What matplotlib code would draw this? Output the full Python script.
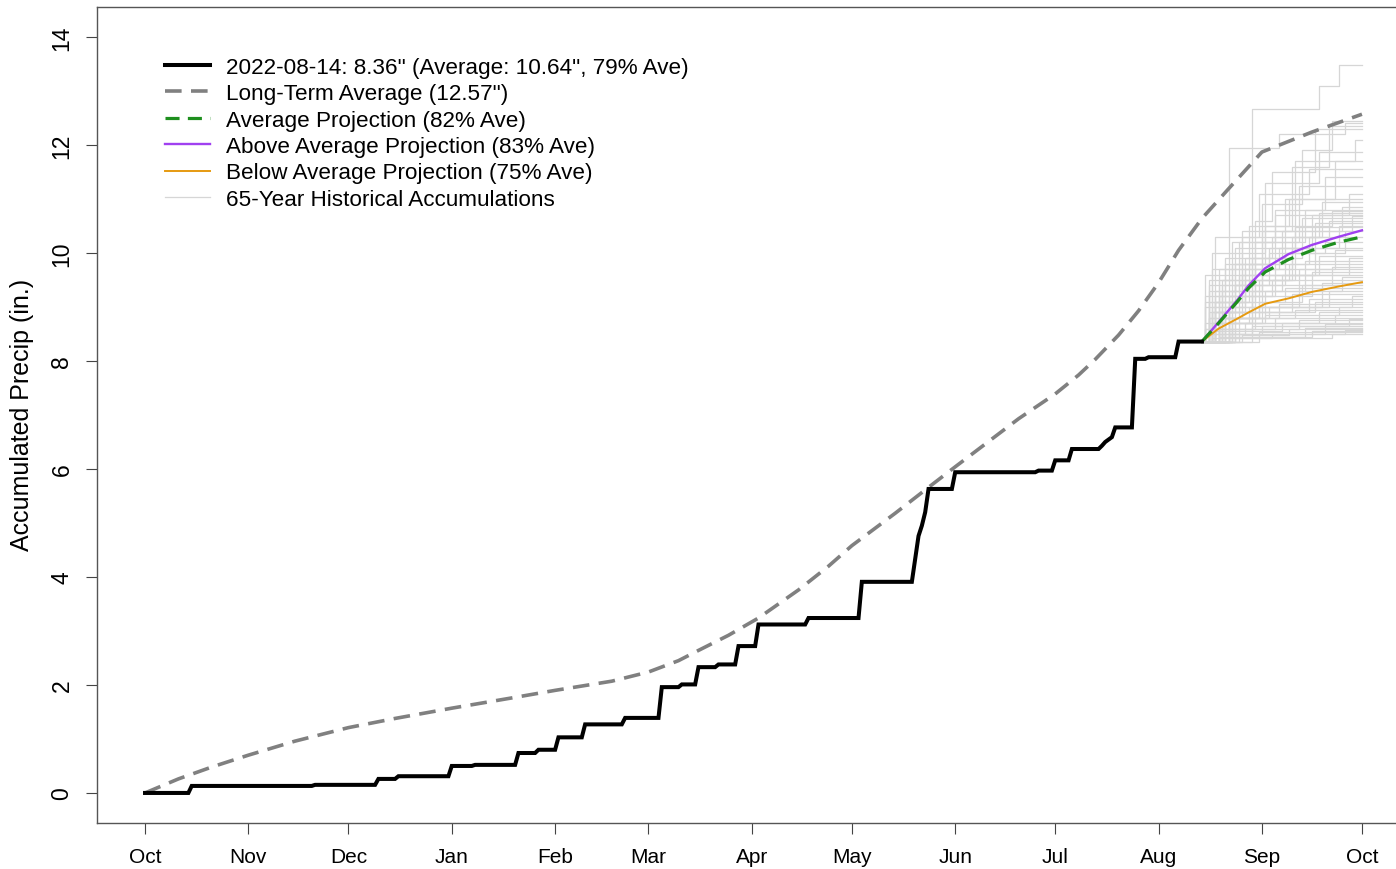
import matplotlib
matplotlib.use('Agg')
import matplotlib.pyplot as plt

plt.rcParams['font.family'] = ['Liberation Sans', 'DejaVu Sans']

# days since Oct 1 for the month ticks
month_days = [0, 31, 61, 92, 123, 151, 182, 212, 243, 273, 304, 335, 365]
month_labels = ['Oct', 'Nov', 'Dec', 'Jan', 'Feb', 'Mar', 'Apr', 'May', 'Jun',
                'Jul', 'Aug', 'Sep', 'Oct']

# current water year accumulation (step breakpoints)
obs_days = [0, 13, 14, 50, 51, 69, 70, 75, 76, 91, 92, 98, 99, 111, 112, 117, 118,
            123, 124, 131, 132, 143, 144, 154, 155, 160, 161, 165, 166, 171, 172,
            177, 178, 183, 184, 198, 199, 214, 215, 230, 232, 233, 234, 235, 242,
            243, 267, 268, 272, 273, 277, 278, 286, 287, 288, 290, 291, 296, 297,
            300, 301, 309, 310, 317]
obs_vals = [0.0, 0.0, 0.13, 0.13, 0.15, 0.15, 0.26, 0.26, 0.31, 0.31, 0.50, 0.50,
            0.52, 0.52, 0.74, 0.74, 0.80, 0.80, 1.03, 1.03, 1.27, 1.27, 1.39, 1.39,
            1.96, 1.96, 2.01, 2.01, 2.33, 2.33, 2.38, 2.38, 2.72, 2.72, 3.12, 3.12,
            3.24, 3.24, 3.91, 3.91, 4.76, 4.95, 5.20, 5.63, 5.63, 5.94, 5.94, 5.97,
            5.97, 6.16, 6.16, 6.37, 6.37, 6.43, 6.50, 6.59, 6.77, 6.77, 8.04, 8.04,
            8.07, 8.07, 8.36, 8.36]

# long-term average accumulation
avg_days = [0, 10, 20, 31, 45, 61, 75, 92, 110, 123, 140, 151, 160, 166, 175, 184,
            196, 205, 212, 225, 235, 243, 262, 273, 280, 285, 292, 298, 304, 310,
            317, 325, 335, 350, 365]
avg_vals = [0.0, 0.26, 0.48, 0.70, 0.96, 1.21, 1.38, 1.57, 1.76, 1.90, 2.07, 2.24,
            2.45, 2.64, 2.92, 3.24, 3.76, 4.20, 4.58, 5.18, 5.66, 6.04, 6.93, 7.39,
            7.74, 8.03, 8.48, 8.93, 9.45, 10.05, 10.64, 11.19, 11.87, 12.24, 12.57]

# projections from 2022-08-14
proj_days = [317, 322, 327.5, 331, 336, 343, 350, 358, 365]
proj_avg = [8.36, 8.70, 9.09, 9.35, 9.65, 9.88, 10.05, 10.20, 10.30]
proj_above = [8.36, 8.72, 9.12, 9.40, 9.72, 9.98, 10.15, 10.30, 10.42]
proj_below = [8.36, 8.60, 8.78, 8.90, 9.06, 9.16, 9.28, 9.38, 9.46]

# 65 historical accumulations added onto the current total (step breakpoints)
hist_days = [
    [317, 332, 352, 358], [317, 321, 335, 347, 356], [317, 325, 340, 360],
    [317, 319, 329, 344, 355], [317, 322, 333, 338, 351], [317, 320, 327, 345, 363],
    [317, 324, 336, 352], [317, 318, 330, 342, 357], [317, 321, 334, 349],
    [317, 326, 339, 354], [317, 319, 328, 346], [317, 323, 337, 350, 361],
    [317, 320, 331, 343], [317, 322, 329, 353], [317, 318, 327, 341, 359],
    [317, 325, 333, 348], [317, 320, 336, 356], [317, 321, 330, 344, 352],
    [317, 319, 326, 339], [317, 323, 335, 362], [317, 318, 332, 347],
    [317, 324, 338, 355], [317, 320, 328, 351], [317, 322, 340, 358],
    [317, 319, 334, 345], [317, 327, 342, 360], [317, 321, 331, 349],
    [317, 318, 326, 337, 354], [317, 323, 344], [317, 320, 333, 357],
    [317, 325, 339, 352], [317, 319, 329, 361], [317, 322, 336, 348],
    [317, 318, 330, 343], [317, 321, 327, 356], [317, 324, 346],
    [317, 320, 335, 350], [317, 326, 341], [317, 319, 332, 359],
    [317, 322, 338], [317, 318, 328, 353], [317, 323, 334, 347],
    [317, 321, 342], [317, 320, 331, 355], [317, 325, 344],
    [317, 319, 337, 362], [317, 322, 349], [317, 318, 333, 351],
    [317, 327, 340], [317, 321, 336, 358], [317, 324, 345],
    [317, 320, 330, 352], [317, 326, 357], [317, 319, 339],
    [317, 323, 335, 361], [317, 328, 346], [317, 321, 341],
    [317, 325, 354], [317, 318, 332], [317, 322, 348],
    [317, 329, 343], [317, 320, 338, 360], [317, 324, 350],
    [317, 334], [317, 327, 356],
]
hist_vals = [
    [8.36, 12.67, 13.09, 13.48], [8.36, 9.2, 10.9, 11.9, 12.45], [8.36, 11.95, 12.2, 12.4],
    [8.36, 9.1, 10.4, 11.6, 12.35], [8.36, 9.5, 10.6, 11.5, 12.3], [8.36, 8.9, 10.1, 11.7, 12.1],
    [8.36, 9.8, 11.3, 11.87], [8.36, 9.0, 9.9, 11.0, 11.7], [8.36, 10.3, 11.1, 11.56],
    [8.36, 9.6, 10.8, 11.4], [8.36, 9.3, 10.2, 11.25], [8.36, 9.4, 10.1, 10.7, 11.1],
    [8.36, 9.7, 10.5, 11.0], [8.36, 8.8, 10.3, 10.95], [8.36, 9.2, 9.8, 10.4, 10.85],
    [8.36, 9.1, 10.2, 10.8], [8.36, 10.0, 10.5, 10.78], [8.36, 8.9, 9.7, 10.3, 10.75],
    [8.36, 9.5, 10.2, 10.7], [8.36, 9.3, 10.4, 10.68], [8.36, 8.7, 9.9, 10.65],
    [8.36, 9.9, 10.3, 10.6], [8.36, 9.0, 9.6, 10.55], [8.36, 9.7, 10.1, 10.5],
    [8.36, 8.8, 9.5, 10.48], [8.36, 9.4, 10.0, 10.4], [8.36, 9.1, 9.8, 10.3],
    [8.36, 9.6, 9.8, 10.0, 10.2], [8.36, 9.5, 10.1], [8.36, 8.9, 9.7, 10.05],
    [8.36, 9.2, 9.6, 9.95], [8.36, 9.4, 9.6, 9.9], [8.36, 8.8, 9.3, 9.85],
    [8.36, 9.1, 9.5, 9.8], [8.36, 9.3, 9.4, 9.75], [8.36, 9.0, 9.7],
    [8.36, 8.7, 9.2, 9.65], [8.36, 9.3, 9.6], [8.36, 8.9, 9.3, 9.55],
    [8.36, 9.2, 9.5], [8.36, 8.6, 9.0, 9.45], [8.36, 8.8, 9.1, 9.4],
    [8.36, 9.1, 9.35], [8.36, 8.7, 9.0, 9.3], [8.36, 8.9, 9.25],
    [8.36, 8.8, 9.0, 9.2], [8.36, 8.9, 9.15], [8.36, 8.6, 8.9, 9.1],
    [8.36, 8.8, 9.05], [8.36, 8.7, 8.85, 9.0], [8.36, 8.8, 8.95],
    [8.36, 8.5, 8.7, 8.9], [8.36, 8.7, 8.85], [8.36, 8.6, 8.8],
    [8.36, 8.5, 8.65, 8.78], [8.36, 8.6, 8.75], [8.36, 8.55, 8.7],
    [8.36, 8.5, 8.68], [8.36, 8.5, 8.65], [8.36, 8.45, 8.62],
    [8.36, 8.48, 8.6], [8.36, 8.42, 8.5, 8.58], [8.36, 8.45, 8.55],
    [8.36, 8.53], [8.36, 8.42, 8.5],
]
end_day = 365

fig = plt.figure(figsize=(13.96, 8.70), dpi=100)
ax = fig.add_axes([0.0695, 0.0529, 0.9405, 0.9379])

# historical traces
for i, (d, v) in enumerate(zip(hist_days, hist_vals)):
    ax.plot(d + [end_day], v + [v[-1]], drawstyle='steps-post', color='#d6d6d6',
            lw=0.9, label='65-Year Historical Accumulations' if i == 0 else None,
            zorder=1)

ax.plot(avg_days, avg_vals, color='#808080', lw=2.6, dashes=(4.6, 2.6),
        label='Long-Term Average (12.57")', zorder=2)
ax.plot(proj_days, proj_below, color='#E69A10', lw=1.4,
        label='Below Average Projection (75% Ave)', zorder=3)
ax.plot(proj_days, proj_above, color='#A040F0', lw=1.7,
        label='Above Average Projection (83% Ave)', zorder=3)
ax.plot(proj_days, proj_avg, color='#1E8F1E', lw=2.3, dashes=(4.4, 2.6),
        label='Average Projection (82% Ave)', zorder=4)
ax.plot(obs_days, obs_vals, color='black', lw=2.9, solid_joinstyle='miter',
        label='2022-08-14: 8.36" (Average: 10.64", 79% Ave)', zorder=5)

ax.set_xlim(-14.4, 379.4)
ax.set_ylim(-0.556, 14.556)
ax.set_xticks(month_days)
ax.set_xticklabels(month_labels)
ax.set_yticks(range(0, 15, 2))
ax.set_yticklabels([str(t) for t in range(0, 15, 2)], rotation=90, va='center')
ax.tick_params(axis='both', direction='out', length=8, width=0.8, color='#444444')
ax.tick_params(axis='x', pad=9, labelsize=15)
ax.tick_params(axis='y', pad=9, labelsize=16.5)
for s in ax.spines.values():
    s.set_color('#555555')
    s.set_linewidth(1.0)

fig.text(22 / 1396, 1 - 415 / 870, 'Accumulated Precip (in.)', rotation=90,
         ha='center', va='center', fontsize=18)

handles, labels = ax.get_legend_handles_labels()
order = ['2022-08-14: 8.36" (Average: 10.64", 79% Ave)', 'Long-Term Average (12.57")',
         'Average Projection (82% Ave)', 'Above Average Projection (83% Ave)',
         'Below Average Projection (75% Ave)', '65-Year Historical Accumulations']
hmap = dict(zip(labels, handles))
ax.legend([hmap[k] for k in order], order, loc='upper left',
          bbox_to_anchor=(0.0518, 0.939), frameon=False, fontsize=16.2,
          borderpad=0, borderaxespad=0, handlelength=2.0, handletextpad=0.72,
          labelspacing=0.24)

fig.savefig('out.png', dpi=100)
